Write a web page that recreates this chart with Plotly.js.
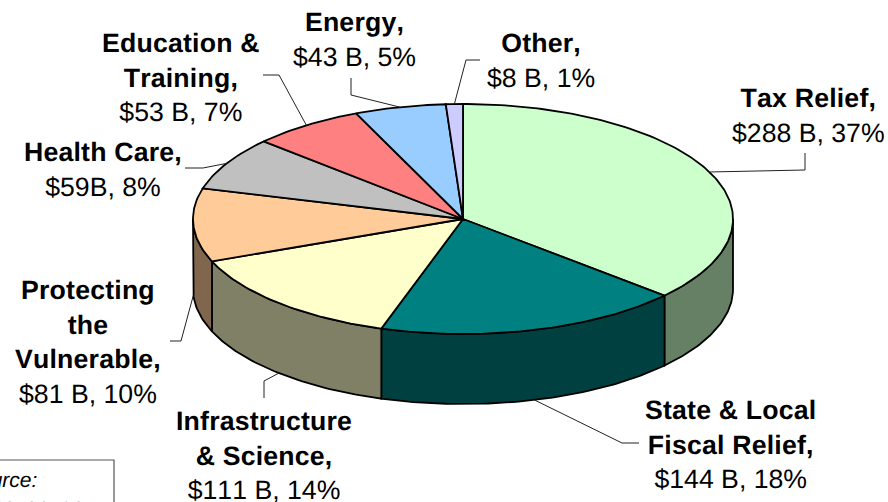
<!DOCTYPE html>
<html>
<head>
<meta charset="utf-8">
<script src="https://cdn.plot.ly/plotly-3.0.1.min.js"></script>
<style>html,body{margin:0;padding:0;background:#fff;overflow:hidden}#chart{width:888px;height:502px}
svg text{font-kerning:none;text-rendering:geometricPrecision}
svg text tspan[style*="bold"]{letter-spacing:.2px}</style>
</head>
<body>
<div id="chart"></div>
<script>
// Data
var categories = ["Tax Relief,", "State & Local<br>Fiscal Relief,", "Infrastructure<br>& Science,", "Protecting<br>the<br>Vulnerable,", "Health Care,", "Education &<br>Training,", "Energy,", "Other,"];
var amounts = [288, 144, 111, 81, 59, 53, 43, 8];
var amountLabels = ["$288 B, 37%", "$144 B, 18%", "$111 B, 14%", "$81 B, 10%", "$59B, 8%", "$53 B, 7%", "$43 B, 5%", "$8 B, 1%"];
var topColors = ["#ccffcc", "#008080", "#ffffcc", "#ffcc99", "#c0c0c0", "#ff8080", "#99ccff", "#ccccff"];
var wallColors = ["#668066", "#004040", "#808066", "#80664d", "#606060", "#804040", "#4d6680", "#666680"];

// Layout constants (pixels on the hidden axes)
var cx = 463, cy = 219, rx = 270, ry = 115, depth = 70;
var labelX = [808, 730, 264, 88, 103, 181, 354, 541];
var labelY = [115, 444, 455.5, 341.5, 169, 77, 39, 60];
var leaderElbows = [
  [[805,170],[805,153]],
  [[622,443],[639,443]],
  [[264,381],[264,398]],
  [[181,341],[170,341]],
  [[203,168],[185,168]],
  [[279,75],[263,75]],
  [[351,95],[351,78]],
  [[466,60],[480,60]]
];
var FONT = "'Liberation Sans', Arial, sans-serif";
var FS = 26.67;

function px(deg){ return cx + rx*Math.sin(deg*Math.PI/180); }
function py(deg, d){ return cy - ry*Math.cos(deg*Math.PI/180) + (d||0); }
function arc(a0, a1, d){
  var xs = [], ys = [], n = Math.max(2, Math.ceil(Math.abs(a1-a0)));
  for (var i = 0; i <= n; i++){ var a = a0 + (a1-a0)*i/n; xs.push(px(a)); ys.push(py(a,d)); }
  return {x: xs, y: ys};
}

var total = amounts.reduce(function(s,v){return s+v;},0);
var angles = [0];
amounts.forEach(function(v,i){ angles.push(angles[i] + v/total*360); });

var traces = [];
var LW = 1.8;
// side walls (only the front half of the rim is visible)
amounts.forEach(function(v,i){
  var a0 = Math.max(angles[i], 90), a1 = Math.min(angles[i+1], 270);
  if (a1 <= a0) return;
  var t = arc(a0,a1,0), b = arc(a1,a0,depth);
  traces.push({type:"scatter", mode:"lines", x:t.x.concat(b.x,[t.x[0]]), y:t.y.concat(b.y,[t.y[0]]),
    fill:"toself", fillcolor:wallColors[i], line:{color:"#000",width:LW}, hoverinfo:"skip", showlegend:false});
});
// top faces
amounts.forEach(function(v,i){
  var t = arc(angles[i],angles[i+1],0);
  traces.push({type:"scatter", mode:"lines", x:[cx].concat(t.x,[cx]), y:[cy].concat(t.y,[cy]),
    fill:"toself", fillcolor:topColors[i], line:{color:"#000",width:LW}, hoverinfo:"skip", showlegend:false, name:categories[i]});
});
// leader lines start at each slice's mid angle on the rim
amounts.forEach(function(v,i){
  var mid = (angles[i]+angles[i+1])/2;
  var onFront = mid > 90 && mid < 270;
  var xs = [px(mid)], ys = [py(mid, onFront ? depth : 0)];
  leaderElbows[i].forEach(function(p){ xs.push(p[0]); ys.push(p[1]); });
  traces.push({type:"scatter", mode:"lines", x:xs, y:ys, line:{color:"#222",width:1}, hoverinfo:"skip", showlegend:false});
});

var annotations = categories.map(function(c,i){
  return {xref:"x", yref:"y", x:labelX[i], y:labelY[i], xanchor:"center", yanchor:"middle", showarrow:false, align:"center",
    text:"<b>"+c+"</b><br>"+amountLabels[i], font:{family:FONT,size:FS,color:"#000"}};
});
annotations.push({xref:"x", yref:"y", x:39, y:480, xanchor:"right", yanchor:"middle", showarrow:false, align:"left",
  text:"<i>Source:</i>", font:{family:FONT,size:21,color:"#000"}});
annotations.push({xref:"x", yref:"y", x:98, y:492.5, xanchor:"right", yanchor:"top", showarrow:false, align:"left",
  text:"<i>recovery.gov</i>", font:{family:FONT,size:21,color:"#000"}});

var layout = {
  width:888, height:502, margin:{l:0,r:0,t:0,b:0}, paper_bgcolor:"#fff", plot_bgcolor:"#fff", showlegend:false,
  xaxis:{range:[0,888], visible:false, fixedrange:true},
  yaxis:{range:[502,0], visible:false, fixedrange:true},
  shapes:[{type:"rect", xref:"x", yref:"y", x0:-5, x1:114, y0:460, y1:510, line:{color:"#555",width:1.2}, fillcolor:"#fff", layer:"below"}],
  annotations:annotations
};
Plotly.newPlot("chart", traces, layout, {displayModeBar:false, staticPlot:true});
</script>
</body>
</html>
